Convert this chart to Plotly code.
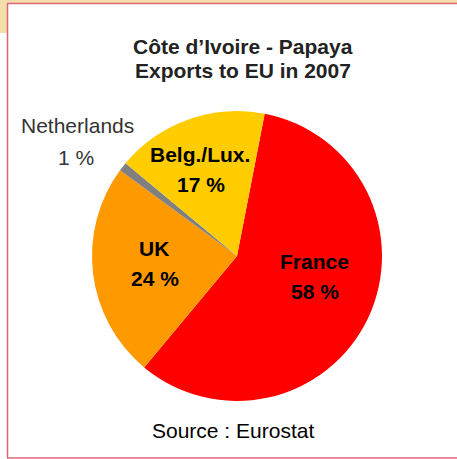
import plotly.graph_objects as go

labels = ["France", "UK", "Netherlands", "Belg./Lux."]
values = [58, 24, 1, 17]
colors = ["#FF0000", "#FF9900", "#808080", "#FFCC00"]
title_lines = ["Côte d’Ivoire - Papaya", "Exports to EU in 2007"]
source = "Source : Eurostat"

W, H = 457, 459
cx, cy, r = 237, 256, 145
FONT = "Liberation Sans, Arial"


def px(X):
    return X / W


def py(Y):
    return 1 - Y / H


fig = go.Figure()
fig.add_trace(go.Pie(
    labels=labels, values=values, sort=False, direction="clockwise",
    rotation=11,
    marker=dict(colors=colors, line=dict(width=0)),
    textinfo="none",
    showlegend=False, hoverinfo="skip",
    domain=dict(x=[px(cx - r), px(cx + r)], y=[py(cy + r), py(cy - r)]),
))

beige = "#F3DDAA"
pink = "#DD6677"
shapes = [
    dict(type="rect", xref="paper", yref="paper", x0=0, x1=1, y0=py(3), y1=1,
         fillcolor=beige, line=dict(width=0), layer="below"),
    dict(type="rect", xref="paper", yref="paper", x0=0, x1=px(7), y0=py(33), y1=1,
         fillcolor=beige, line=dict(width=0), layer="below"),
    dict(type="line", xref="paper", yref="paper", x0=px(7.5), x1=px(7.5), y0=py(458), y1=py(3),
         line=dict(color=pink, width=1.5)),
    dict(type="line", xref="paper", yref="paper", x0=px(7), x1=1, y0=py(3.5), y1=py(3.5),
         line=dict(color=pink, width=1.5)),
    dict(type="line", xref="paper", yref="paper", x0=px(7), x1=1, y0=py(458), y1=py(458),
         line=dict(color=pink, width=1.5)),
]

# label positions (window px) for each slice label: (x, y of name line)
label_pos = {"France": (314, 261), "UK": (154, 248), "Belg./Lux.": (200, 154)}

ann = [
    dict(text="<b>" + title_lines[0] + "</b>", x=243, y=46, color="#222222"),
    dict(text="<b>" + title_lines[1] + "</b>", x=243, y=70, color="#222222"),
    dict(text=labels[2], x=77, y=125, color="#333333"),
    dict(text=f"{values[2]} %", x=76, y=157, color="#333333"),
    dict(text=source, x=233, y=430, color="#000000"),
]
for lab, val in zip(labels, values):
    if lab in label_pos:
        X, Y = label_pos[lab]
        ann.append(dict(text="<b>" + lab + "</b>", x=X, y=Y, color="#000000"))
        ann.append(dict(text=f"<b>{val} %</b>", x=X + 1, y=Y + 30, color="#000000"))

annotations = []
for a in ann:
    annotations.append(dict(text=a["text"], x=px(a["x"]), y=py(a["y"]), xref="paper", yref="paper",
                            xanchor="center", yanchor="middle", showarrow=False,
                            font=dict(family=FONT, size=21, color=a["color"])))

fig.update_layout(width=W, height=H, margin=dict(l=0, r=0, t=0, b=0),
                  paper_bgcolor="white", plot_bgcolor="white",
                  shapes=shapes, annotations=annotations)
fig.write_html("out.html", config={"displayModeBar": False},
               post_script="document.body.style.margin='0';")
